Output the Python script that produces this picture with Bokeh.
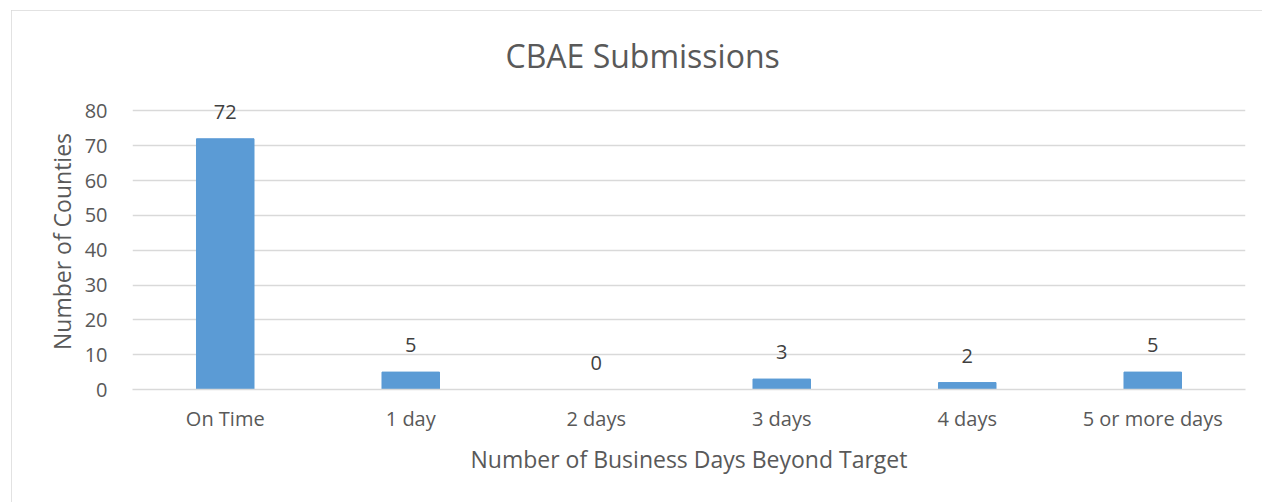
from bokeh.plotting import figure
from bokeh.models import ColumnDataSource, LabelSet, SingleIntervalTicker
from bokeh.embed import file_html
from bokeh.resources import INLINE
from bokeh.core.properties import value

categories = ["On Time", "1 day", "2 days", "3 days", "4 days", "5 or more days"]
counts = [72, 5, 0, 3, 2, 5]
label_texts = [str(c) for c in counts]

FONT = "Open Sans"
src = ColumnDataSource(dict(cat=categories, val=counts, lab=label_texts))

p = figure(x_range=categories, y_range=(0, 85), width=1251, height=492,
           output_backend="svg", toolbar_location=None,
           min_border_left=121, min_border_right=17, min_border_top=83, min_border_bottom=113,
           title="CBAE Submissions")
p.styles = {"outline": "2px solid #d9d9d9", "outline-offset": "-2px",
            "margin-left": "11px", "margin-top": "10px"}

p.title.align = "left"
p.title.offset = 373
p.title.text_font = FONT
p.title.text_font_size = "32px"
p.title.text_font_style = "normal"
p.title.text_color = "#595959"
p.title.standoff = 33

p.vbar(x="cat", top="val", width=0.31, source=src, color="#5B9BD5")

labels = LabelSet(x="cat", y="val", text="lab", source=src, y_offset=20,
                  text_align="center", text_baseline="bottom",
                  text_font=value(FONT), text_font_size="20px", text_color="#404040")
p.add_layout(labels)

p.yaxis.ticker = SingleIntervalTicker(interval=10)
p.yaxis.axis_line_color = None
p.yaxis.major_tick_line_color = None
p.yaxis.minor_tick_line_color = None
p.yaxis.major_label_text_font = FONT
p.yaxis.major_label_text_font_size = "20px"
p.yaxis.major_label_text_color = "#595959"
p.yaxis.major_label_standoff = 19
p.yaxis.axis_label = "Number of Counties"
p.yaxis.axis_label_text_font = FONT
p.yaxis.axis_label_text_font_size = "23px"
p.yaxis.axis_label_text_font_style = "normal"
p.yaxis.axis_label_text_color = "#595959"
p.yaxis.axis_label_standoff = 4

p.xaxis.axis_line_color = "#D9D9D9"
p.xaxis.axis_line_width = 1.5
p.xaxis.major_tick_line_color = None
p.xaxis.minor_tick_line_color = None
p.xaxis.major_label_text_font = FONT
p.xaxis.major_label_text_font_size = "20px"
p.xaxis.major_label_text_color = "#595959"
p.xaxis.major_label_standoff = 9
p.xaxis.axis_label = "Number of Business Days Beyond Target"
p.xaxis.axis_label_text_font = FONT
p.xaxis.axis_label_text_font_size = "23px"
p.xaxis.axis_label_text_font_style = "normal"
p.xaxis.axis_label_text_color = "#595959"
p.xaxis.axis_label_standoff = 8

p.xgrid.grid_line_color = None
p.ygrid.grid_line_color = "#D9D9D9"
p.ygrid.grid_line_width = 1.5
p.outline_line_color = None
p.x_range.range_padding = 0

open("out.html", "w").write(file_html(p, INLINE))
